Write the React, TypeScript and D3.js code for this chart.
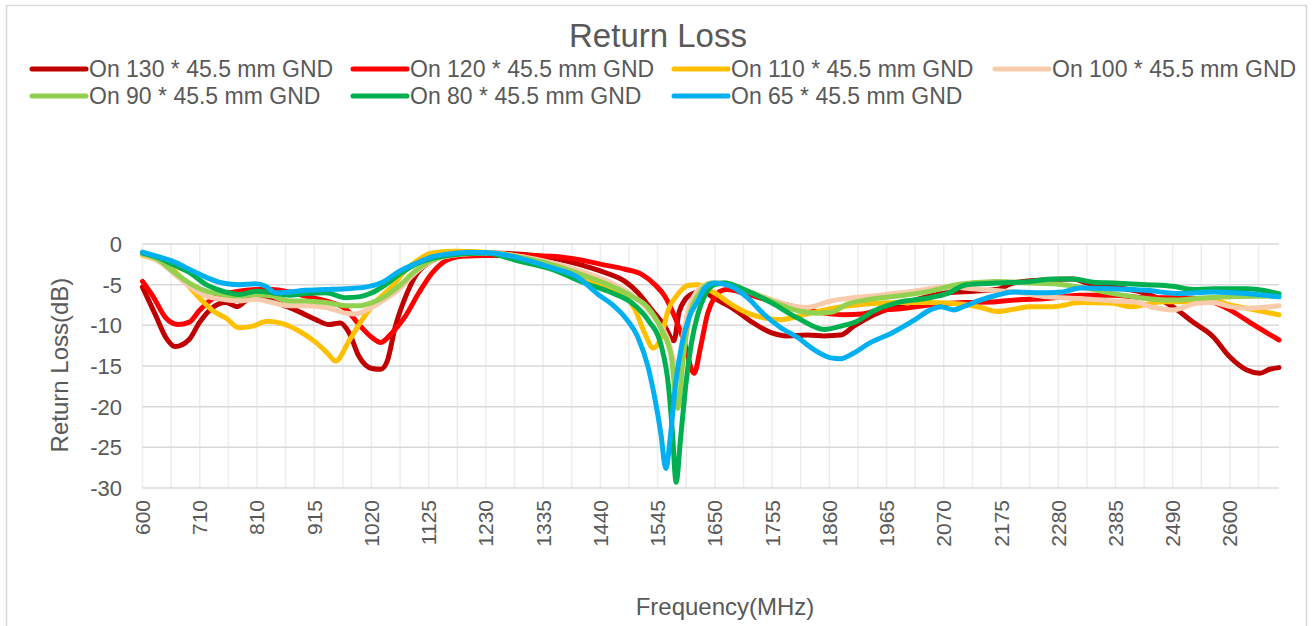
import * as d3 from 'd3';

// frequency (MHz), return loss (dB)
const s130: [number, number][] = [
  [600, -5.3], [625, -8.9], [643, -11.5], [660, -12.6], [686, -11.7], [704, -9.7], [729, -7.8], [753, -7.2],
  [774, -7.7], [796, -6.7], [820, -6.6], [845, -7.2], [869, -7.8], [893, -8.5], [918, -9.3], [942, -9.9],
  [963, -9.7], [979, -10.9], [997, -13.8], [1021, -15.3], [1037, -15.4], [1049, -14.4], [1064, -10.1],
  [1082, -6.6], [1101, -3.9], [1125, -2.3], [1143, -1.7], [1190, -1.2], [1240, -1.1], [1300, -1.3],
  [1350, -1.7], [1411, -2.7], [1448, -3.5], [1485, -4.6], [1509, -6.0], [1533, -8.0], [1558, -10.1],
  [1575, -11.9], [1584, -8.5], [1596, -6.8], [1613, -6.0], [1631, -5.8], [1643, -6.4], [1680, -7.8],
  [1716, -9.5], [1753, -10.9], [1783, -11.3], [1820, -11.2], [1851, -11.3], [1881, -11.2], [1905, -10.1],
  [1942, -8.7], [1985, -7.6], [2033, -6.6], [2076, -6.0], [2125, -5.8], [2167, -5.6], [2198, -4.8],
  [2259, -4.4], [2308, -4.3], [2332, -4.8], [2381, -5.3], [2442, -6.1], [2490, -7.7], [2527, -9.6],
  [2564, -11.4], [2595, -13.9], [2626, -15.5], [2650, -15.9], [2668, -15.4], [2685, -15.2],
];
const s120: [number, number][] = [
  [600, -4.6], [619, -6.4], [643, -9.1], [665, -9.9], [686, -9.6], [704, -8.2], [723, -7.0], [747, -6.2],
  [777, -5.8], [808, -5.6], [838, -5.6], [869, -5.9], [899, -6.4], [936, -7.0], [973, -8.0], [997, -9.9],
  [1021, -11.5], [1037, -12.1], [1058, -10.9], [1082, -8.9], [1107, -6.0], [1131, -3.6], [1155, -2.1],
  [1186, -1.5], [1229, -1.4], [1290, -1.4], [1350, -1.5], [1399, -1.9], [1442, -2.5], [1485, -3.1],
  [1515, -3.7], [1540, -5.0], [1558, -6.4], [1576, -8.9], [1594, -12.1], [1612, -15.9], [1624, -12.6],
  [1637, -8.5], [1649, -6.6], [1660, -5.8], [1673, -5.6], [1710, -6.2], [1753, -7.0], [1802, -7.8],
  [1851, -8.5], [1887, -8.7], [1920, -8.6], [1948, -8.2], [1985, -8.0], [2045, -7.5], [2106, -7.2],
  [2167, -7.1], [2198, -6.9], [2259, -6.7], [2320, -6.3], [2381, -6.3], [2442, -6.6], [2503, -6.6],
  [2551, -6.9], [2595, -8.1], [2626, -9.4], [2650, -10.4], [2685, -11.8],
];
const s110: [number, number][] = [
  [600, -1.4], [631, -2.1], [655, -3.1], [680, -4.8], [704, -6.6], [729, -8.2], [753, -9.1], [777, -10.3],
  [802, -10.1], [829, -9.5], [857, -9.8], [887, -10.7], [918, -12.1], [939, -13.4], [954, -14.4],
  [979, -11.9], [1003, -9.3], [1027, -7.2], [1058, -5.2], [1082, -3.3], [1107, -1.9], [1131, -1.1],
  [1170, -0.9], [1230, -1.0], [1290, -1.5], [1350, -2.5], [1411, -4.3], [1448, -5.2], [1485, -6.4],
  [1503, -8.0], [1521, -10.9], [1537, -12.8], [1552, -11.3], [1564, -8.2], [1582, -6.2], [1600, -5.1],
  [1619, -5.0], [1637, -5.6], [1649, -6.0], [1680, -7.4], [1710, -8.5], [1741, -9.1], [1771, -9.3],
  [1802, -8.9], [1832, -8.4], [1875, -7.8], [1924, -7.4], [1985, -7.2], [2045, -7.2], [2106, -7.4],
  [2143, -7.9], [2167, -8.3], [2200, -8.0], [2229, -7.7], [2271, -7.7], [2320, -7.2], [2381, -7.3],
  [2412, -7.7], [2473, -7.1], [2534, -7.1], [2564, -6.9], [2595, -7.5], [2626, -7.9], [2685, -8.7],
];
const s100: [number, number][] = [
  [600, -1.3], [631, -2.2], [655, -3.5], [686, -5.2], [717, -6.4], [747, -6.8], [777, -7.0], [808, -6.8],
  [838, -7.2], [869, -7.6], [899, -7.6], [936, -7.8], [973, -8.5], [991, -8.6], [1015, -8.0], [1040, -7.0],
  [1070, -5.6], [1101, -3.5], [1131, -2.1], [1160, -1.5], [1200, -1.2], [1240, -1.1], [1290, -1.5],
  [1350, -2.3], [1411, -3.5], [1461, -4.8], [1497, -6.2], [1521, -7.6], [1546, -9.7], [1564, -11.7],
  [1576, -14.6], [1582, -15.3], [1590, -12.0], [1600, -8.5], [1615, -6.0], [1635, -5.0], [1660, -4.9],
  [1700, -5.6], [1753, -6.8], [1790, -7.6], [1820, -7.8], [1863, -7.0], [1893, -6.7], [1954, -6.3],
  [2015, -5.8], [2076, -5.3], [2137, -5.6], [2198, -5.9], [2259, -6.5], [2320, -6.7], [2381, -7.0],
  [2418, -7.1], [2455, -7.8], [2490, -8.1], [2534, -7.3], [2564, -7.2], [2595, -7.7], [2626, -7.9],
  [2685, -7.6],
];
const s90: [number, number][] = [
  [600, -1.2], [631, -2.0], [655, -3.3], [686, -4.8], [717, -5.8], [747, -6.2], [777, -6.4], [808, -6.2],
  [838, -6.4], [869, -7.0], [899, -7.0], [936, -7.2], [973, -7.6], [997, -7.6], [1021, -7.2], [1046, -6.4],
  [1070, -5.2], [1101, -3.3], [1131, -2.0], [1160, -1.4], [1200, -1.1], [1240, -1.1], [1290, -1.6],
  [1350, -2.5], [1411, -3.9], [1461, -5.2], [1497, -6.4], [1527, -7.8], [1552, -10.5], [1570, -13.8],
  [1582, -20.2], [1592, -14.0], [1603, -9.0], [1620, -6.2], [1643, -4.8], [1667, -4.8], [1710, -5.8],
  [1753, -7.0], [1802, -8.2], [1838, -8.5], [1863, -8.4], [1893, -7.4], [1936, -6.8], [1985, -6.4],
  [2045, -5.8], [2094, -5.0], [2137, -4.7], [2167, -4.6], [2229, -4.8], [2271, -4.9], [2320, -5.3],
  [2381, -6.1], [2442, -6.7], [2490, -6.9], [2534, -6.7], [2595, -6.5], [2685, -6.4],
];
const s80: [number, number][] = [
  [600, -1.1], [631, -1.7], [655, -2.5], [686, -3.5], [717, -5.0], [747, -5.8], [777, -6.2], [808, -5.8],
  [838, -6.0], [869, -6.3], [899, -6.1], [936, -6.0], [973, -6.6], [997, -6.5], [1021, -6.0], [1046, -5.0],
  [1076, -3.5], [1107, -2.3], [1143, -1.6], [1190, -1.2], [1230, -1.1], [1290, -2.1], [1350, -3.1],
  [1411, -4.8], [1461, -6.0], [1497, -7.2], [1527, -9.3], [1552, -12.6], [1565, -17.5], [1572, -23.0],
  [1579, -29.3], [1587, -24.0], [1597, -17.2], [1607, -12.2], [1619, -8.6], [1631, -6.4], [1649, -5.0],
  [1667, -4.8], [1710, -5.8], [1753, -7.2], [1802, -9.1], [1851, -10.5], [1881, -10.1], [1911, -9.5],
  [1942, -8.2], [1985, -7.2], [2045, -6.6], [2076, -6.1], [2112, -5.0], [2167, -4.8], [2229, -4.6],
  [2271, -4.3], [2308, -4.3], [2344, -4.7], [2381, -4.8], [2442, -5.0], [2490, -5.2], [2527, -5.6],
  [2564, -5.5], [2626, -5.5], [2685, -6.1],
];
const s65: [number, number][] = [
  [600, -1.0], [631, -1.6], [655, -2.1], [686, -3.1], [717, -4.1], [747, -4.8], [777, -5.0], [808, -4.9],
  [826, -5.2], [845, -6.0], [869, -5.9], [899, -5.7], [936, -5.6], [973, -5.5], [1009, -5.3], [1040, -4.7],
  [1070, -3.4], [1101, -2.4], [1131, -1.6], [1165, -1.2], [1198, -1.0], [1240, -1.1], [1290, -1.7],
  [1350, -2.9], [1399, -4.1], [1436, -6.2], [1461, -7.4], [1485, -9.0], [1509, -11.5], [1527, -15.0],
  [1540, -19.0], [1551, -23.3], [1560, -27.6], [1569, -23.3], [1578, -17.2], [1590, -12.2], [1603, -9.0],
  [1619, -7.0], [1631, -5.5], [1649, -4.8], [1680, -5.2], [1710, -6.6], [1741, -8.7], [1771, -10.3],
  [1802, -11.5], [1832, -13.0], [1863, -14.0], [1881, -14.1], [1905, -13.4], [1936, -12.1], [1973, -11.0],
  [2015, -9.4], [2045, -8.1], [2064, -7.7], [2088, -8.1], [2106, -7.7], [2137, -6.9], [2167, -6.3],
  [2198, -5.9], [2259, -6.0], [2289, -5.9], [2320, -5.4], [2381, -5.5], [2442, -5.7], [2503, -6.1],
  [2534, -6.0], [2564, -5.9], [2626, -6.1], [2685, -6.5],
];

const seriesNames = [
  'On 130 * 45.5 mm GND', 'On 120 * 45.5 mm GND', 'On 110 * 45.5 mm GND', 'On 100 * 45.5 mm GND',
  'On 90 * 45.5 mm GND', 'On 80 * 45.5 mm GND', 'On 65 * 45.5 mm GND',
];
const seriesColors = ['#C00000', '#FF0000', '#FFC000', '#F8CBAD', '#92D050', '#00B050', '#00B0F0'];
const seriesData = [s130, s120, s110, s100, s90, s80, s65];

const xTickLabels = ['600', '710', '810', '915', '1020', '1125', '1230', '1335', '1440', '1545',
  '1650', '1755', '1860', '1965', '2070', '2175', '2280', '2385', '2490', '2600'];
const yTicks = [0, -5, -10, -15, -20, -25, -30];

const W = 1312;
const H = 626;
const TEXT = '#595959';
const FONT = '"Liberation Sans", Arial, sans-serif';

export default function App() {
  const left = 142.5, right = 1279, top = 244, bottom = 488;
  const x = d3.scaleLinear().domain([600, 2685]).range([left, right]);
  const y = d3.scaleLinear().domain([-30, 0]).range([bottom, top]);
  const line = d3.line<[number, number]>()
    .x(d => x(d[0]))
    .y(d => y(d[1]))
    .curve(d3.curveMonotoneX);

  // vertical grid every half label step
  const vGrid = d3.range(600, 2685, 52.5);
  const labelPos = xTickLabels.map((_, i) => 600 + i * 105);

  return (
    <svg width={W} height={H} style={{ position: 'absolute', left: 0, top: 0, background: '#fff' }}
      fontFamily={FONT}>
      <rect x={6.5} y={5.5} width={1300} height={660} fill="#fff" stroke="#D9D9D9" strokeWidth={1.5} />

      <text x={658} y={47} textAnchor="middle" fontSize={33} fill={TEXT}>Return Loss</text>

      {/* legend */}
      {seriesNames.map((name, i) => {
        const lx = 30 + (i % 4) * 321;
        const ly = 69 + Math.floor(i / 4) * 27;
        return (
          <g key={name}>
            <line x1={lx + 2} x2={lx + 56} y1={ly} y2={ly} stroke={seriesColors[i]} strokeWidth={5}
              strokeLinecap="round" />
            <text x={lx + 59} y={ly + 8} fontSize={23} fill={TEXT}>{name}</text>
          </g>
        );
      })}

      {/* grid */}
      {vGrid.map(v => (
        <line key={'v' + v} x1={x(v)} x2={x(v)} y1={top} y2={bottom} stroke="#EDEDED" strokeWidth={1.5} />
      ))}
      {yTicks.map(t => (
        <line key={'h' + t} x1={left} x2={right} y1={y(t)} y2={y(t)} stroke="#D9D9D9" strokeWidth={1.5} />
      ))}

      {/* y tick labels */}
      {yTicks.map(t => (
        <text key={'yl' + t} x={122} y={y(t) + 8} textAnchor="end" fontSize={22} fill={TEXT}>{t}</text>
      ))}

      {/* x tick labels */}
      {labelPos.map((v, i) => (
        <text key={'xl' + i} transform={`translate(${x(v) + 7.5},${500}) rotate(-90)`} textAnchor="end"
          fontSize={21} fill={TEXT}>{xTickLabels[i]}</text>
      ))}

      {/* series */}
      <g fill="none" strokeWidth={5} strokeLinejoin="round" strokeLinecap="round">
        {seriesData.map((d, i) => (
          <path key={i} d={line(d) || ''} stroke={seriesColors[i]} />
        ))}
      </g>

      <text transform="translate(68,365) rotate(-90)" textAnchor="middle" fontSize={24} fill={TEXT}>
        Return Loss(dB)
      </text>
      <text x={725} y={615} textAnchor="middle" fontSize={24} fill={TEXT}>Frequency(MHz)</text>
    </svg>
  );
}
